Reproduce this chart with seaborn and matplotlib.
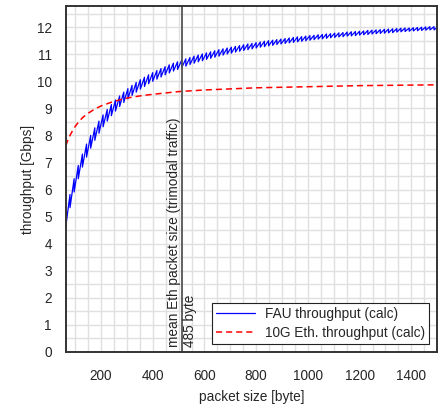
import numpy as np
import pandas as pd
import matplotlib
matplotlib.use("Agg")
import matplotlib.pyplot as plt
from matplotlib.ticker import MultipleLocator
import seaborn as sns

# FAU throughput, sawtooth with 16 byte period: value at start / end of each tooth
tooth_width = 16
first_size = 64
fau_low = [4.65, 5.33, 5.91, 6.40, 6.83, 7.20, 7.53, 7.82, 8.08, 8.32,
           8.53, 8.73, 8.90, 9.07, 9.22, 9.35, 9.48, 9.60, 9.71, 9.81,
           9.91, 10.00, 10.08, 10.16, 10.24, 10.31, 10.38, 10.44, 10.50, 10.56,
           10.62, 10.67, 10.72, 10.76, 10.81, 10.85, 10.89, 10.93, 10.97, 11.01,
           11.04, 11.08, 11.11, 11.14, 11.17, 11.20, 11.23, 11.26, 11.28, 11.31,
           11.33, 11.36, 11.38, 11.40, 11.42, 11.44, 11.46, 11.48, 11.50, 11.52,
           11.54, 11.56, 11.57, 11.59, 11.61, 11.62, 11.64, 11.65, 11.67, 11.68,
           11.69, 11.71, 11.72, 11.73, 11.75, 11.76, 11.77, 11.78, 11.79, 11.80,
           11.82, 11.83, 11.84, 11.85, 11.86, 11.87, 11.88, 11.89, 11.90, 11.90]
fau_high = [5.82, 6.40, 6.89, 7.31, 7.68, 8.00, 8.28, 8.53, 8.76, 8.96,
            9.14, 9.31, 9.46, 9.60, 9.73, 9.85, 9.96, 10.06, 10.15, 10.24,
            10.32, 10.40, 10.47, 10.54, 10.61, 10.67, 10.72, 10.78, 10.83, 10.88,
            10.93, 10.97, 11.01, 11.05, 11.09, 11.13, 11.17, 11.20, 11.23, 11.26,
            11.29, 11.32, 11.35, 11.38, 11.40, 11.43, 11.45, 11.48, 11.50, 11.52,
            11.54, 11.56, 11.58, 11.60, 11.62, 11.64, 11.65, 11.67, 11.69, 11.70,
            11.72, 11.73, 11.75, 11.76, 11.78, 11.79, 11.80, 11.82, 11.83, 11.84,
            11.85, 11.86, 11.88, 11.89, 11.90, 11.91, 11.92, 11.93, 11.94, 11.95,
            11.96, 11.97, 11.97, 11.98, 11.99, 12.00, 12.01, 12.02, 12.02, 12.03]

# 10G Ethernet throughput
eth_size = [64, 70, 80, 90, 100, 115, 130, 150, 175, 200, 250, 300,
            350, 400, 500, 600, 800, 1000, 1200, 1500]
eth_gbps = [7.62, 7.78, 8.00, 8.18, 8.33, 8.52, 8.67, 8.82, 8.97, 9.09, 9.26, 9.38,
            9.46, 9.52, 9.62, 9.68, 9.76, 9.80, 9.84, 9.87]

mean_size = 513
mean_label = "485 byte"

# build sawtooth path
xs, ys = [], []
for i, (lo, hi) in enumerate(zip(fau_low, fau_high)):
    start = first_size + i * tooth_width
    xs += [start, start + tooth_width]
    ys += [lo, hi]
fau = pd.DataFrame({"size": xs, "gbps": ys})
eth = pd.DataFrame({"size": eth_size, "gbps": eth_gbps})

sns.set_style("white")
plt.rcParams["font.family"] = ["Liberation Sans", "DejaVu Sans"]
fs = 9.8

fig = plt.figure(figsize=(4.42, 4.05), dpi=100)
ax = fig.add_axes([0.149, 0.131, 0.840, 0.854])

sns.lineplot(data=fau, x="size", y="gbps", sort=False, estimator=None,
             color="blue", lw=0.9, label="FAU throughput (calc)", ax=ax)
sns.lineplot(data=eth, x="size", y="gbps", sort=False, estimator=None,
             color="red", lw=1.1, dashes=False, label="10G Eth. throughput (calc)", ax=ax)
ax.lines[1].set_dashes((4, 2.6))

ax.axvline(mean_size, color="#555555", lw=1.3)
ax.text(mean_size - 4, 0.2, "mean Eth packet size (trimodal traffic)",
        rotation=90, ha="right", va="bottom", fontsize=fs)
ax.text(mean_size + 5, 0.2, mean_label, rotation=90, ha="left", va="bottom", fontsize=fs)

ax.set_xlim(64, 1500)
ax.set_ylim(0, 12.78)
ax.xaxis.set_major_locator(MultipleLocator(200))
ax.xaxis.set_minor_locator(MultipleLocator(50))
ax.yaxis.set_major_locator(MultipleLocator(1))
ax.yaxis.set_minor_locator(MultipleLocator(0.5))
ax.grid(which="both", color="#e0e0e0", lw=1.0)
ax.set_axisbelow(True)
ax.tick_params(which="both", direction="out", length=4, width=1, color="#d8d8d8",
               labelsize=fs)
ax.tick_params(axis="x", pad=8)
ax.tick_params(axis="y", pad=6)
for s in ax.spines.values():
    s.set_color("#333333")
    s.set_linewidth(1.4)

ax.set_xlabel("packet size [byte]", fontsize=fs, labelpad=5)
ax.set_ylabel("throughput [Gbps]", fontsize=fs)
ax.yaxis.set_label_coords(-0.084, 0.5)

leg = ax.legend(loc="lower right", fancybox=False, framealpha=1, edgecolor="#222222",
                borderpad=0.3, handlelength=2.9, handletextpad=0.7,
                labelspacing=0.35, fontsize=fs, borderaxespad=0.6)
leg.get_frame().set_linewidth(0.8)

fig.savefig("out.png", dpi=100)
